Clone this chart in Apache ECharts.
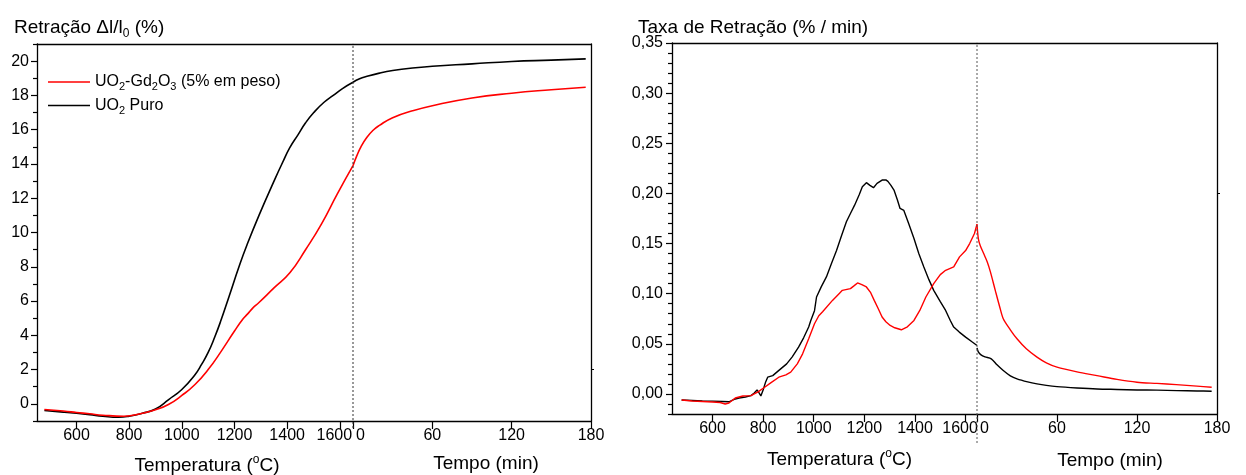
<!DOCTYPE html>
<html>
<head>
<meta charset="utf-8">
<script src="https://cdn.jsdelivr.net/npm/echarts@6/dist/echarts.min.js"></script>
<style>html,body{margin:0;padding:0;background:#fff}#c{width:1246px;height:475px}</style>
</head>
<body>
<div id="c"></div>
<script>
// ---------- data ----------
const serieGdName = 'UO2-Gd2O3 (5% em peso)';
const seriePureName = 'UO2 Puro';

// Left panel: shrinkage (%) vs temperature (°C)
const shrinkTempPure = [[478,-0.39],[550,-0.48],[600,-0.55],[650,-0.63],[700,-0.72],[760,-0.78],[800,-0.72],[850,-0.55],[900,-0.3],[950,0.25],[1000,0.84],[1050,1.7],[1075,2.3],[1100,3.0],[1125,3.9],[1147,4.8],[1180,6.3],[1217,8.0],[1248,9.3],[1293,11.0],[1353,13.1],[1383,14.1],[1410,14.95],[1441,15.7],[1470,16.4],[1501,17.0],[1540,17.6],[1575,18.0],[1610,18.4],[1650,18.77]];
const shrinkTempGd = [[478,-0.33],[550,-0.42],[600,-0.5],[650,-0.58],[700,-0.66],[780,-0.72],[850,-0.55],[900,-0.35],[949,-0.04],[1000,0.49],[1050,1.13],[1100,2.0],[1150,3.08],[1200,4.25],[1232,4.95],[1250,5.25],[1270,5.6],[1292,5.9],[1351,6.78],[1411,7.66],[1471,9.02],[1530,10.49],[1590,12.24],[1650,13.9]];
// Left panel: shrinkage (%) vs time (min)
const shrinkTimePure = [[0,18.77],[5,18.97],[10,19.1],[20,19.3],[30,19.45],[45,19.6],[60,19.7],[90,19.84],[120,19.98],[150,20.06],[176,20.13]];
const shrinkTimeGd = [[0,13.9],[3,14.5],[6,15.0],[10,15.5],[15,15.95],[20,16.25],[30,16.7],[45,17.1],[60,17.4],[90,17.85],[120,18.13],[150,18.33],[176,18.48]];

// Right panel: shrinkage rate (%/min) vs temperature (°C)
const rateTempPure = [[478,-0.006],[520,-0.0065],[560,-0.007],[600,-0.0072],[640,-0.0075],[665,-0.0078],[690,-0.005],[705,-0.004],[730,-0.003],[752,-0.0017],[765,0.001],[776,0.004],[784,0.001],[791,-0.002],[800,0.004],[810,0.012],[818,0.0167],[838,0.0183],[860,0.023],[893,0.030],[915,0.037],[940,0.0467],[960,0.056],[980,0.0667],[988,0.073],[1003,0.083],[1011,0.0967],[1030,0.107],[1050,0.1167],[1070,0.130],[1090,0.143],[1110,0.158],[1129,0.1717],[1145,0.180],[1161,0.188],[1180,0.199],[1192,0.2067],[1208,0.2107],[1222,0.208],[1236,0.2057],[1250,0.210],[1270,0.2133],[1285,0.2135],[1293,0.212],[1305,0.208],[1317,0.2033],[1330,0.194],[1341,0.185],[1356,0.183],[1375,0.170],[1396,0.155],[1415,0.140],[1435,0.1267],[1455,0.114],[1474,0.1033],[1500,0.092],[1521,0.0833],[1540,0.073],[1553,0.0667],[1575,0.0617],[1600,0.0567],[1625,0.052],[1645,0.0483]];
const rateTempGd = [[478,-0.006],[520,-0.007],[560,-0.0075],[600,-0.008],[630,-0.0085],[650,-0.01],[665,-0.009],[690,-0.004],[720,-0.002],[752,-0.0017],[780,0.002],[806,0.0067],[830,0.011],[862,0.0167],[890,0.019],[909,0.0217],[935,0.030],[956,0.040],[980,0.055],[1003,0.070],[1020,0.078],[1035,0.082],[1074,0.0933],[1100,0.100],[1113,0.1033],[1145,0.105],[1160,0.108],[1173,0.1107],[1190,0.109],[1208,0.1067],[1225,0.101],[1239,0.0933],[1255,0.085],[1270,0.0767],[1285,0.072],[1302,0.0683],[1320,0.066],[1346,0.064],[1370,0.067],[1396,0.0733],[1419,0.0833],[1443,0.0967],[1474,0.110],[1500,0.119],[1521,0.1233],[1553,0.1267],[1576,0.1367],[1600,0.143],[1616,0.150],[1635,0.160],[1645,0.1693]];
// Right panel: shrinkage rate (%/min) vs time (min)
const rateTimePure = [[0,0.046],[1,0.042],[3,0.039],[6,0.037],[10.7,0.035],[15,0.029],[19.7,0.0233],[25,0.018],[30,0.015],[38,0.012],[45,0.010],[52,0.0085],[60,0.0073],[75,0.006],[90,0.005],[105,0.0045],[120,0.004],[135,0.0038],[150,0.0033],[165,0.003],[176,0.0027]];
const rateTimeGd = [[0,0.1693],[1,0.155],[2.4,0.148],[5,0.140],[7.7,0.1317],[10,0.122],[13.7,0.1033],[17,0.087],[19.7,0.075],[25,0.064],[30,0.055],[37,0.045],[45,0.0367],[52,0.031],[60,0.0267],[75,0.022],[90,0.0183],[105,0.0145],[120,0.0117],[135,0.0105],[149.5,0.0093],[165,0.0078],[176,0.0067]];

// axis ranges & ticks
const tempRangeLeft = [450, 1650];
const tempRangeRight = [440, 1645];
const timeRange = [0, 180];
const shrinkRange = [-1, 21];
const rateRange = [-0.02, 0.35];
const tempTicks = [600, 800, 1000, 1200, 1400, 1600];
const timeTicks = [0, 60, 120, 180];
const shrinkTicks = [0, 2, 4, 6, 8, 10, 12, 14, 16, 18, 20];
const shrinkMinorTicks = [-1, 1, 3, 5, 7, 9, 11, 13, 15, 17, 19, 21];
const rateTicks = [0, 0.05, 0.10, 0.15, 0.20, 0.25, 0.30, 0.35];
const rateMinorTicks = [-0.02, -0.01, 0.01, 0.02, 0.03, 0.04, 0.06, 0.07, 0.08, 0.09, 0.11, 0.12, 0.13, 0.14, 0.16, 0.17, 0.18, 0.19, 0.21, 0.22, 0.23, 0.24, 0.26, 0.27, 0.28, 0.29, 0.31, 0.32, 0.33, 0.34];

// ---------- chart ----------
const FONT = '"Liberation Sans", Arial, sans-serif';
const RED = '#ff0000', BLACK = '#000000';
const chart = echarts.init(document.getElementById('c'));

const lineAxis = {show: true, onZero: false, lineStyle: {color: '#000', width: 1.3}};

function bottomX(grid, range, ticks, isTemp, namePad, nameGap) {
  return {
    type: 'value', gridIndex: grid, position: 'bottom', min: range[0], max: range[1],
    interval: isTemp ? undefined : 60,
    splitLine: {show: false},
    axisLine: lineAxis,
    axisTick: {show: true, inside: false, length: 8, lineStyle: {color: '#000', width: 1.2}, customValues: isTemp ? ticks : undefined},
    axisLabel: {
      show: true, margin: 7, color: '#000', fontSize: 16, fontFamily: FONT,
      customValues: isTemp ? ticks : undefined,
      formatter: function (v) {
        if (isTemp && v === 1600) return '{l|1600}';
        if (!isTemp && v === 0) return '{z|0}';
        return String(v);
      },
      rich: {l: {fontSize: 16, fontFamily: FONT, color: '#000', padding: [0, 11, 0, 0]},
             z: {fontSize: 16, fontFamily: FONT, color: '#000', padding: [0, 0, 0, 15]}}
    },
    name: isTemp ? 'Temperatura ({sup|o}C)' : 'Tempo (min)',
    nameLocation: 'middle', nameGap: nameGap,
    nameTextStyle: {fontSize: 19, fontFamily: FONT, color: '#000', padding: [0, 0, 0, namePad],
      rich: {sup: {fontSize: 12, fontFamily: FONT, color: '#000', padding: [0, 0, 11, 0]}}}
  };
}
function topX(grid, range) {
  return {type: 'value', gridIndex: grid, position: 'top', min: range[0], max: range[1],
    axisLine: lineAxis, axisTick: {show: false}, axisLabel: {show: false}, splitLine: {show: false}};
}
function hiddenX(grid, range) {
  return {type: 'value', gridIndex: grid, min: range[0], max: range[1], show: false};
}

const option = {
  animation: false,
  backgroundColor: '#fff',
  textStyle: {fontFamily: FONT},
  title: [
    {text: '{t|Retração Δl/l}{s|0}{t| (%)}', left: 9, top: 11,
      textStyle: {fontWeight: 'normal', rich: {t: {fontSize: 19, fontWeight: 'normal', fontFamily: FONT, color: '#000'}, s: {fontSize: 12, fontWeight: 'normal', fontFamily: FONT, color: '#000', padding: [12, 0, 0, 0]}}}},
    {text: 'Taxa de Retração (% / min)', left: 633, top: 13,
      textStyle: {fontSize: 19, fontFamily: FONT, color: '#000', fontWeight: 'normal'}}
  ],
  legend: {
    data: [serieGdName, seriePureName], orient: 'vertical', left: 43, top: 69,
    icon: 'rect', itemWidth: 42, itemHeight: 1.6, itemGap: 5,
    formatter: function (name) {
      return name === serieGdName
        ? '{t|UO}{s|2}{t|-Gd}{s|2}{t|O}{s|3}{t| (5% em peso)}'
        : '{t|UO}{s|2}{t| Puro}';
    },
    textStyle: {fontSize: 16, fontFamily: FONT, color: '#000',
      rich: {t: {fontSize: 16, fontFamily: FONT, color: '#000'}, s: {fontSize: 11, fontFamily: FONT, color: '#000', padding: [10, 0, 0, 0]}}}
  },
  grid: [
    {left: 37, top: 44, width: 316, height: 377, outerBoundsMode: 'none', containLabel: false},
    {left: 353, top: 44, width: 238, height: 377, outerBoundsMode: 'none', containLabel: false},
    {left: 672, top: 43, width: 305, height: 371, outerBoundsMode: 'none', containLabel: false},
    {left: 977, top: 43, width: 240, height: 371, outerBoundsMode: 'none', containLabel: false},
    {left: 37, top: 44, width: 316, height: 384, outerBoundsMode: 'none', containLabel: false},
    {left: 672, top: 43, width: 305, height: 400, outerBoundsMode: 'none', containLabel: false}
  ],
  xAxis: [
    bottomX(0, tempRangeLeft, tempTicks, true, 24, 33),
    bottomX(1, timeRange, timeTicks, false, 28, 33),
    bottomX(2, tempRangeRight, tempTicks, true, 30, 34),
    bottomX(3, timeRange, timeTicks, false, 26, 37),
    topX(0, tempRangeLeft), topX(1, timeRange), topX(2, tempRangeRight), topX(3, timeRange),
    hiddenX(4, tempRangeLeft), hiddenX(5, tempRangeRight)
  ],
  yAxis: [
    {type: 'value', gridIndex: 0, position: 'left', min: shrinkRange[0], max: shrinkRange[1], splitLine: {show: false},
      axisLine: lineAxis,
      axisTick: {show: true, inside: false, length: 6, customValues: shrinkTicks, lineStyle: {color: '#000', width: 1.2}},
      axisLabel: {show: true, customValues: shrinkTicks, margin: 8, color: '#000', fontSize: 16, fontFamily: FONT}},
    {type: 'value', gridIndex: 0, position: 'left', min: shrinkRange[0], max: shrinkRange[1], splitLine: {show: false},
      axisLine: {show: false, onZero: false}, axisLabel: {show: false},
      axisTick: {show: true, inside: false, length: 4, customValues: shrinkMinorTicks, lineStyle: {color: '#000', width: 1.2}}},
    {type: 'value', gridIndex: 1, position: 'right', min: shrinkRange[0], max: shrinkRange[1], splitLine: {show: false},
      axisLine: lineAxis, axisLabel: {show: false},
      axisTick: {show: true, inside: false, length: 3, customValues: [2], lineStyle: {color: '#000', width: 1}}},
    {type: 'value', gridIndex: 2, position: 'left', min: rateRange[0], max: rateRange[1], splitLine: {show: false},
      axisLine: lineAxis,
      axisTick: {show: true, inside: false, length: 6, customValues: rateTicks, lineStyle: {color: '#000', width: 1.2}},
      axisLabel: {show: true, customValues: rateTicks, margin: 9, color: '#000', fontSize: 16, fontFamily: FONT,
        formatter: function (v) { return v.toFixed(2).replace('.', ','); }}},
    {type: 'value', gridIndex: 2, position: 'left', min: rateRange[0], max: rateRange[1], splitLine: {show: false},
      axisLine: {show: false, onZero: false}, axisLabel: {show: false},
      axisTick: {show: true, inside: false, length: 4, customValues: rateMinorTicks, lineStyle: {color: '#000', width: 1.2}}},
    {type: 'value', gridIndex: 3, position: 'right', min: rateRange[0], max: rateRange[1], splitLine: {show: false},
      axisLine: lineAxis, axisLabel: {show: false},
      axisTick: {show: true, inside: false, length: 3, customValues: [0.2], lineStyle: {color: '#000', width: 1}}},
    {type: 'value', gridIndex: 4, min: 0, max: 1, show: false},
    {type: 'value', gridIndex: 5, min: 0, max: 1, show: false}
  ],
  series: [
    {name: seriePureName, type: 'line', xAxisIndex: 0, yAxisIndex: 0, data: shrinkTempPure, smooth: 0.5, symbol: 'none', lineStyle: {color: BLACK, width: 1.6}, itemStyle: {color: BLACK}},
    {name: serieGdName, type: 'line', xAxisIndex: 0, yAxisIndex: 0, data: shrinkTempGd, smooth: 0.5, symbol: 'none', lineStyle: {color: RED, width: 1.6}, itemStyle: {color: RED}},
    {name: seriePureName, type: 'line', xAxisIndex: 1, yAxisIndex: 2, data: shrinkTimePure, smooth: 0.5, symbol: 'none', lineStyle: {color: BLACK, width: 1.6}, itemStyle: {color: BLACK}},
    {name: serieGdName, type: 'line', xAxisIndex: 1, yAxisIndex: 2, data: shrinkTimeGd, smooth: 0.5, symbol: 'none', lineStyle: {color: RED, width: 1.6}, itemStyle: {color: RED}},
    {name: seriePureName, type: 'line', xAxisIndex: 2, yAxisIndex: 3, data: rateTempPure, symbol: 'none', lineStyle: {color: BLACK, width: 1.4}, itemStyle: {color: BLACK}},
    {name: serieGdName, type: 'line', xAxisIndex: 2, yAxisIndex: 3, data: rateTempGd, symbol: 'none', lineStyle: {color: RED, width: 1.4}, itemStyle: {color: RED}},
    {name: seriePureName, type: 'line', xAxisIndex: 3, yAxisIndex: 5, data: rateTimePure, smooth: 0.3, symbol: 'none', lineStyle: {color: BLACK, width: 1.4}, itemStyle: {color: BLACK}},
    {name: serieGdName, type: 'line', xAxisIndex: 3, yAxisIndex: 5, data: rateTimeGd, smooth: 0.3, symbol: 'none', lineStyle: {color: RED, width: 1.4}, itemStyle: {color: RED}},
    {name: 'breakLeft', type: 'line', xAxisIndex: 8, yAxisIndex: 6, data: [[tempRangeLeft[1], 0], [tempRangeLeft[1], 1]], symbol: 'none', silent: true,
      lineStyle: {color: '#333', width: 1, type: [2, 2]}},
    {name: 'breakRight', type: 'line', xAxisIndex: 9, yAxisIndex: 7, data: [[tempRangeRight[1], 0], [tempRangeRight[1], 1]], symbol: 'none', silent: true,
      lineStyle: {color: '#555', width: 1, type: [2, 2]}}
  ]
};
chart.setOption(option);
</script>
</body>
</html>
